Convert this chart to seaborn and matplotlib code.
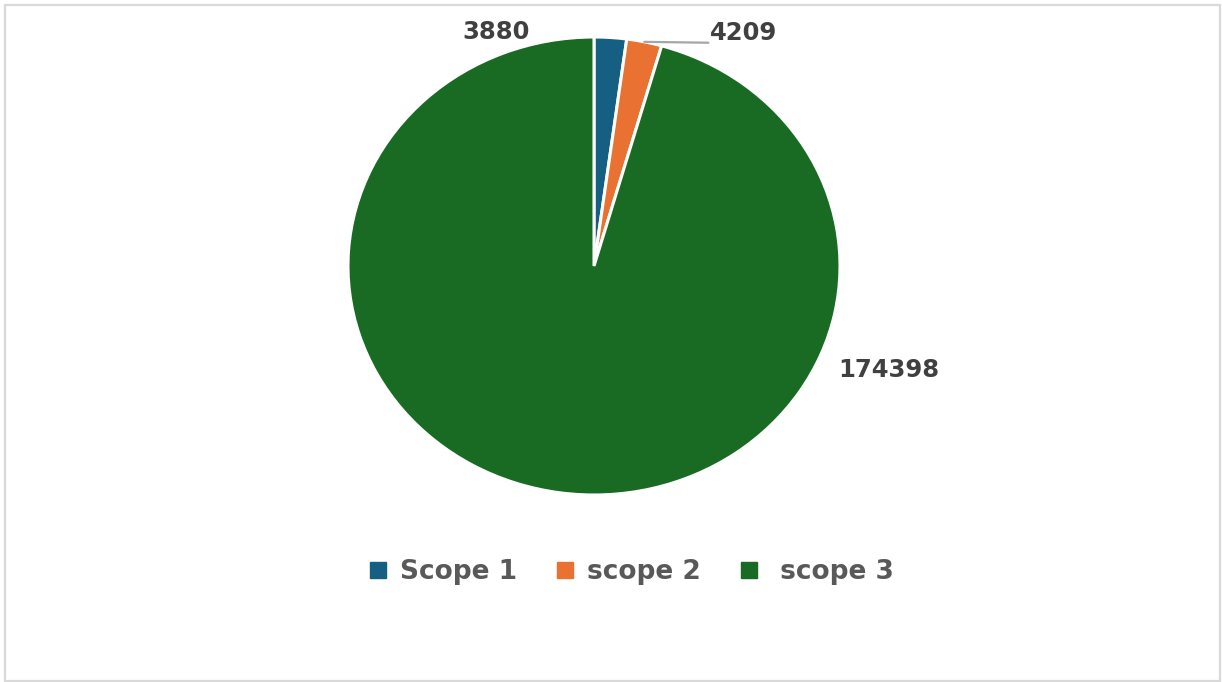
import matplotlib
matplotlib.use("Agg")
import matplotlib.pyplot as plt
from matplotlib.lines import Line2D
from matplotlib.patches import Rectangle
import numpy as np
import seaborn as sns

# ---- data ----
categories = ["Scope 1", "scope 2", " scope 3"]
values = [3880, 4209, 174398]
colors = ["#156082", "#E97132", "#196B24"]

sns.set_theme(style="white")
plt.rcParams["font.family"] = ["DejaVu Sans"]

W, H = 1222, 682
fig = plt.figure(figsize=(W / 100, H / 100), dpi=100)
fig.patch.set_facecolor("white")

# chart border
fig.add_artist(Rectangle((5 / W, 1 / H), 1215 / W, 676 / H, transform=fig.transFigure,
                         fill=False, edgecolor="#d9d9d9", linewidth=1.6))

# pie area (slightly elliptical like the reference)
left, right, top, bottom = 348, 840, 37, 495
ax = fig.add_axes([left / W, 1 - bottom / H, (right - left) / W, (bottom - top) / H])
palette = sns.color_palette(colors)
wedges, _ = ax.pie(values, colors=palette, startangle=90, counterclock=False,
                   wedgeprops=dict(edgecolor="white", linewidth=2.2))
ax.set_aspect("auto")
ax.set_xlim(-1, 1)
ax.set_ylim(-1, 1)
ax.axis("off")

# data labels
label_color = "#404040"
total = sum(values)
cum = np.cumsum([0] + values)
mid_angles = [np.deg2rad(90 - 360 * (cum[i] + values[i] / 2) / total) for i in range(len(values))]

label_pos = [(-0.40, 1.022), (0.61, 1.017), (1.20, -0.454)]
for i, (v, (lx, ly)) in enumerate(zip(values, label_pos)):
    ax.text(lx, ly, f"{v}", ha="center", va="center", fontsize=17.5, fontweight="bold",
            color=label_color, clip_on=False)

# leader line for scope 2
a = mid_angles[1]
ax.plot([np.cos(a), 0.465], [np.sin(a), 0.975], color="#a6a6a6", linewidth=1.6, clip_on=False)

# legend
handles = [Line2D([0], [0], marker="s", linestyle="none", markersize=11.5,
                  markerfacecolor=c, markeredgecolor=c) for c in colors]
leg = fig.legend(handles, categories, loc="center", bbox_to_anchor=(632 / W, 1 - 572 / H),
                 ncol=3, frameon=False, handlelength=0.6, handletextpad=0.55,
                 columnspacing=1.5, prop=dict(weight="bold", size=19))
for t in leg.get_texts():
    t.set_color("#595959")

fig.savefig("out.png", dpi=100, facecolor="white")
